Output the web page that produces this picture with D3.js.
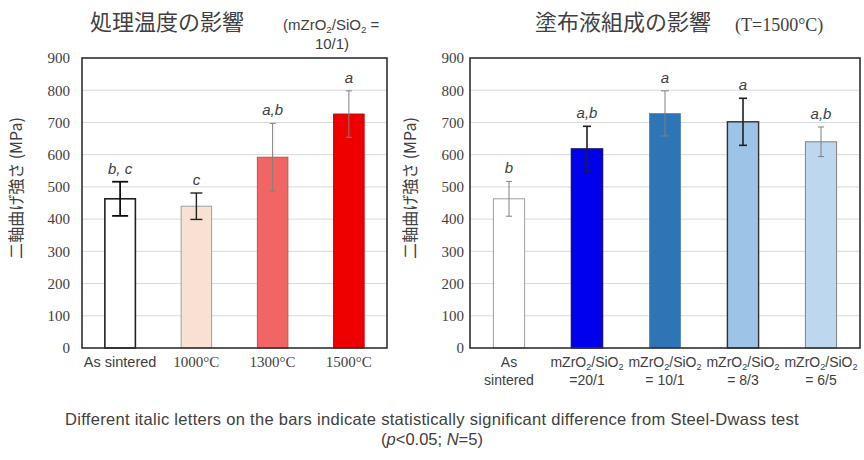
<!DOCTYPE html>
<html>
<head>
<meta charset="utf-8">
<script src="https://cdn.jsdelivr.net/npm/d3@7"></script>
<style>
  body { margin: 0; background: #fff; }
  svg text { font-family: "Noto Sans CJK JP", "Noto Sans", sans-serif; fill: #404040; }
</style>
</head>
<body>
<svg id="chart" width="864" height="460"></svg>
<script>
// ---- data ----
const yTicks = [0, 100, 200, 300, 400, 500, 600, 700, 800, 900];

const tempCats = ["As sintered", "1000°C", "1300°C", "1500°C"];
const tempMean = [463, 440, 592, 726];
const tempErr = [53, 41, 105, 72];
const tempLetters = ["b, c", "c", "a,b", "a"];
const tempFill = ["#ffffff", "#f8e0d2", "#f26565", "#ee0000"];
const tempStroke = ["#202020", "#a0a0a0", "#c05050", "#c00000"];
const tempErrColor = ["#101010", "#202020", "#808080", "#808080"];

const compCats = [["As", "sintered"], ["mZrO2/SiO2", "=20/1"], ["mZrO2/SiO2", "= 10/1"], ["mZrO2/SiO2", "= 8/3"], ["mZrO2/SiO2", "= 6/5"]];
const compMean = [463, 618, 728, 702, 640];
const compErr = [54, 70, 70, 73, 46];
const compLetters = ["b", "a,b", "a", "a", "a,b"];
const compFill = ["#ffffff", "#0000ee", "#2e75b6", "#9dc3e6", "#bdd7ee"];
const compStroke = ["#a0a0a0", "#1a1a60", "#2e75b6", "#303030", "#808080"];
const compErrColor = ["#808080", "#202020", "#808080", "#202020", "#808080"];

const svg = d3.select("#chart");
const sans = "'Liberation Sans', sans-serif";
const serif = "'Liberation Serif', serif";

// writes "mZrO2/SiO2" with the 2 after O as subscript
function chemText(sel, str, size) {
  str.split(/(O2)/).forEach(part => {
    if (part === "O2") {
      sel.append("tspan").text("O");
      sel.append("tspan").text("2").attr("font-size", size * 0.65)
        .attr("baseline-shift", -size * 0.2);
    } else if (part) {
      sel.append("tspan").text(part);
    }
  });
}

function drawPanel(p) {
  const g = svg.append("g");
  const x = d3.scaleBand().domain(d3.range(p.means.length))
    .range([p.left, p.right]).paddingInner(p.pad).paddingOuter(p.pad / 2);
  const y = d3.scaleLinear().domain([0, 900]).range([348, 58]);

  // gridlines
  g.selectAll(".grid").data(yTicks.slice(1, -1)).enter().append("line")
    .attr("x1", p.left).attr("x2", p.right)
    .attr("y1", d => y(d)).attr("y2", d => y(d))
    .attr("stroke", "#d9d9d9").attr("stroke-width", 1);

  // y axis tick labels
  const ax = g.append("g").attr("transform", `translate(${p.left},0)`)
    .call(d3.axisLeft(y).tickValues(yTicks).tickSize(0).tickPadding(p.tickPad));
  ax.select(".domain").remove();
  ax.selectAll("text").attr("font-size", 15).attr("fill", "#404040")
    .style("font-family", serif);

  // bars
  g.selectAll(".bar").data(p.means).enter().append("rect")
    .attr("x", (d, i) => x(i)).attr("width", x.bandwidth())
    .attr("y", d => y(d)).attr("height", d => y(0) - y(d))
    .attr("fill", (d, i) => p.fill[i]).attr("stroke", (d, i) => p.stroke[i])
    .attr("stroke-width", (d, i) => p.strokeW[i]);

  // error bars
  const eb = g.selectAll(".err").data(p.means).enter().append("g")
    .attr("stroke", (d, i) => p.errColor[i])
    .attr("stroke-width", (d, i) => p.errW[i]);
  eb.append("line")
    .attr("x1", (d, i) => x(i) + x.bandwidth() / 2).attr("x2", (d, i) => x(i) + x.bandwidth() / 2)
    .attr("y1", (d, i) => y(d + p.errs[i])).attr("y2", (d, i) => y(d - p.errs[i]));
  [1, -1].forEach(s => {
    eb.append("line")
      .attr("x1", (d, i) => x(i) + x.bandwidth() / 2 - p.cap[i]).attr("x2", (d, i) => x(i) + x.bandwidth() / 2 + p.cap[i])
      .attr("y1", (d, i) => y(d + s * p.errs[i])).attr("y2", (d, i) => y(d + s * p.errs[i]));
  });

  // significance letters
  g.selectAll(".let").data(p.letters).enter().append("text")
    .attr("x", (d, i) => x(i) + x.bandwidth() / 2)
    .attr("y", (d, i) => y(p.means[i] + p.errs[i]) - 8)
    .attr("text-anchor", "middle").attr("font-size", 15).attr("font-style", "italic")
    .attr("fill", "#505050").style("font-family", sans)
    .text(d => d);

  // plot frame
  g.append("rect").attr("x", p.left).attr("y", y(900))
    .attr("width", p.right - p.left).attr("height", y(0) - y(900))
    .attr("fill", "none").attr("stroke", "#303030").attr("stroke-width", 1.6);

  // y title
  g.append("text").attr("transform", `translate(${p.ytitleX},188) rotate(-90)`)
    .attr("text-anchor", "middle").attr("font-size", 16).text("二軸曲げ強さ (MPa)");

  // x labels
  p.cats.forEach((c, i) => {
    const lines = Array.isArray(c) ? c : [c];
    lines.forEach((ln, k) => {
      const isTemp = /°C/.test(ln);
      const t = g.append("text").attr("x", x(i) + x.bandwidth() / 2).attr("y", 367 + k * 18)
        .attr("text-anchor", "middle").attr("font-size", isTemp ? 15 : p.xFont)
        .style("font-family", isTemp ? serif : sans);
      chemText(t, ln, p.xFont);
    });
  });

  // title
  g.append("text").attr("x", p.titleX).attr("y", 30).attr("font-size", 22)
    .attr("fill", "#505050").text(p.title);
  return g;
}

drawPanel({
  left: 82, right: 387, pad: 0.6, tickPad: 12, ytitleX: 22, xFont: 14.5,
  means: tempMean, errs: tempErr, letters: tempLetters, cats: tempCats,
  fill: tempFill, stroke: tempStroke, strokeW: [1.6, 1, 1, 1],
  errColor: tempErrColor, errW: [1.8, 1.4, 1, 1], cap: [8, 6, 3, 3],
  title: "処理温度の影響", titleX: 90
});

drawPanel({
  left: 470, right: 860, pad: 0.6, tickPad: 6, ytitleX: 416, xFont: 14,
  means: compMean, errs: compErr, letters: compLetters, cats: compCats,
  fill: compFill, stroke: compStroke, strokeW: [1, 1.4, 0.5, 1.4, 1],
  errColor: compErrColor, errW: [1, 1.6, 1, 1.6, 1], cap: [3, 4, 4, 4, 3],
  title: "塗布液組成の影響", titleX: 535
});

// condition notes beside titles
const n1 = svg.append("text").attr("x", 283).attr("y", 30).attr("font-size", 15)
  .style("font-family", sans);
chemText(n1, "(mZrO2/SiO2 =", 15);
svg.append("text").attr("x", 332).attr("y", 49).attr("font-size", 15).attr("text-anchor", "middle")
  .style("font-family", sans).text("10/1)");
svg.append("text").attr("x", 735).attr("y", 31).attr("font-size", 18)
  .style("font-family", serif).text("(T=1500°C)");

// footnote
svg.append("text").attr("x", 432).attr("y", 425).attr("text-anchor", "middle").attr("font-size", 16.5)
  .attr("letter-spacing", 0.3).attr("fill", "#505050").style("font-family", sans)
  .text("Different italic letters on the bars indicate statistically significant difference from Steel-Dwass test");
const fn = svg.append("text").attr("x", 432).attr("y", 445).attr("text-anchor", "middle")
  .attr("font-size", 16.5).attr("fill", "#505050").style("font-family", sans);
fn.append("tspan").text("(");
fn.append("tspan").attr("font-style", "italic").text("p");
fn.append("tspan").text("<0.05; ");
fn.append("tspan").attr("font-style", "italic").text("N");
fn.append("tspan").text("=5)");
</script>
</body>
</html>
